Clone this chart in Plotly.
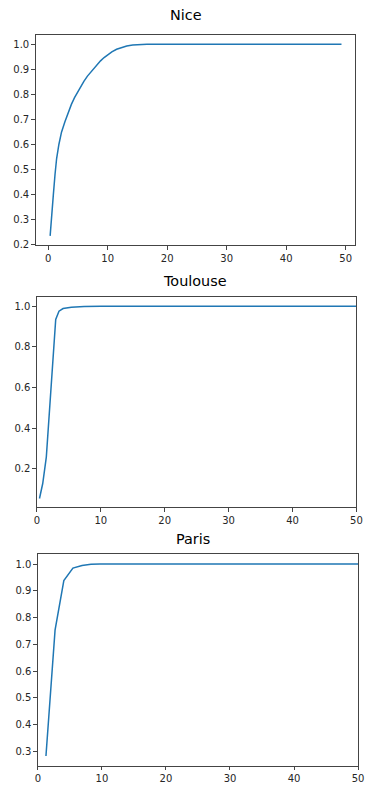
import plotly.graph_objects as go

W, H = 368, 787

# ---- data ----
nice_x = [0.33, 0.6, 0.87, 1.15, 1.42, 1.8, 2.24, 2.8, 3.33, 3.9, 4.43, 5.0, 5.5, 6.0, 6.6,
          7.2, 7.7, 8.2, 8.8, 9.4, 10, 10.7, 11.5, 12.3, 13.2, 14.2, 15.4, 16.6, 18, 20,
          25, 30, 35, 40, 45, 49.3]
nice_y = [0.235, 0.33, 0.40, 0.48, 0.544, 0.60, 0.649, 0.69, 0.728, 0.76, 0.787, 0.812,
          0.833, 0.852, 0.873, 0.89, 0.905, 0.918, 0.934, 0.947, 0.958, 0.970, 0.980,
          0.987, 0.993, 0.997, 0.999, 1.0, 1.0, 1.0, 1.0, 1.0, 1.0, 1.0, 1.0, 1.0]

toulouse_x = [0.41, 0.92, 1.48, 1.98, 2.44, 2.95, 3.46, 4.1, 5.4, 7.4, 10, 20, 30, 40, 52]
toulouse_y = [0.053, 0.127, 0.257, 0.486, 0.731, 0.935, 0.976, 0.989, 0.995, 0.999, 1.0,
              1.0, 1.0, 1.0, 1.0]

paris_x = [1.27, 2.69, 4.06, 5.48, 6.9, 8.3, 9.7, 12, 20, 30, 40, 52]
paris_y = [0.283, 0.753, 0.938, 0.985, 0.995, 0.999, 1.0, 1.0, 1.0, 1.0, 1.0, 1.0]

titles = ["Nice", "Toulouse", "Paris"]
x_ticks = [0, 10, 20, 30, 40, 50]
nice_yticks = [0.2, 0.3, 0.4, 0.5, 0.6, 0.7, 0.8, 0.9, 1.0]
toulouse_yticks = [0.2, 0.4, 0.6, 0.8, 1.0]
paris_yticks = [0.3, 0.4, 0.5, 0.6, 0.7, 0.8, 0.9, 1.0]

# ---- layout geometry (pixels) ----
boxes = [  # left, right, top, bottom
    (33.5, 361.0, 35.0, 247.0),
    (34.7, 362.3, 298.7, 510.7),
    (35.7, 364.0, 557.7, 770.7),
]
xranges = [[-2.1, 51.6], [0, 50.001], [0, 50.001]]
yranges = [[0.197, 1.038], [0.009, 1.047], [0.2466, 1.037]]
yticks = [nice_yticks, toulouse_yticks, paris_yticks]
title_pos = [(188, 15.5), (196.7, 283.0), (195, 542.5)]

series = [(nice_x, nice_y), (toulouse_x, toulouse_y), (paris_x, paris_y)]

fig = go.Figure()
layout = dict(
    width=W, height=H, margin=dict(l=0, r=0, t=0, b=0),
    paper_bgcolor="white", plot_bgcolor="white", showlegend=False,
    font=dict(family="DejaVu Sans", size=10, color="#262626"),
)
annotations = []
AXC = "#444444"
for i, ((xs, ys), (l, r, t, b)) in enumerate(zip(series, boxes)):
    n = "" if i == 0 else str(i + 1)
    fig.add_trace(go.Scatter(x=xs, y=ys, mode="lines",
                             line=dict(color="#1f77b4", width=1.5),
                             xaxis="x" + n, yaxis="y" + n, cliponaxis=True))
    common = dict(showgrid=False, zeroline=False, showline=True, mirror=True,
                  linecolor=AXC, linewidth=1, ticks="outside", ticklen=3.5,
                  tickcolor=AXC, tickwidth=1, tickfont=dict(size=10, color="#262626"),
                  ticklabeloverflow="allow")
    layout["xaxis" + n] = dict(domain=[l / W, r / W], range=xranges[i], anchor="y" + n,
                               tickvals=x_ticks, ticktext=[str(v) for v in x_ticks],
                               **common)
    layout["yaxis" + n] = dict(domain=[1 - b / H, 1 - t / H], range=yranges[i],
                               anchor="x" + n, tickvals=yticks[i],
                               ticktext=["%.1f" % v for v in yticks[i]], **common)
    tx, ty = title_pos[i]
    annotations.append(dict(text=titles[i], x=tx / W, y=1 - ty / H, xref="paper",
                            yref="paper", xanchor="center", yanchor="middle",
                            showarrow=False,
                            font=dict(size=14.4, color="#000000", family="DejaVu Sans")))
layout["annotations"] = annotations
fig.update_layout(**layout)
fig.write_html("out.html", config={"displayModeBar": False},
               post_script="document.body.style.margin='0';document.body.style.overflow='hidden';")
